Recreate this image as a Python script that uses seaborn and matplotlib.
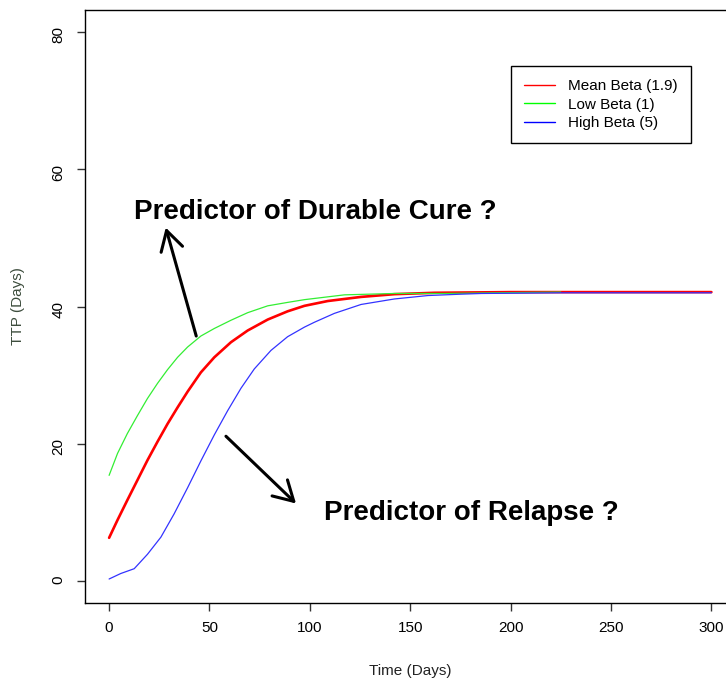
#!/usr/bin/env python3

import matplotlib.pyplot as plt
import pandas as pd
import seaborn as sns
from matplotlib.lines import Line2D

# values (days, TTP in days)
mean_days = [0, 4.2, 9.1, 14.1, 19.1, 24.1, 29.1, 34.1, 39.1, 45.7, 52.4, 60.7,
             69.0, 79.0, 88.9, 97.3, 108.9, 125.5, 142.1, 162.1, 200, 300]
mean_ttp = [6.3, 8.9, 11.8, 14.7, 17.6, 20.3, 22.9, 25.3, 27.6, 30.4, 32.6, 34.8,
            36.5, 38.1, 39.3, 40.1, 40.8, 41.4, 41.8, 42.0, 42.1, 42.1]

low_days = [0, 4.2, 9.1, 14.1, 19.1, 24.1, 29.1, 34.1, 39.1, 45.7, 52.4, 60.7,
            69.0, 79.0, 88.9, 97.3, 117.2, 142.1, 167, 192, 225]
low_ttp = [15.4, 18.6, 21.5, 24.1, 26.6, 28.8, 30.8, 32.6, 34.1, 35.7, 36.8, 38.0,
           39.1, 40.1, 40.6, 41.0, 41.7, 41.9, 41.9, 42.0, 42.1]

high_days = [0, 5.8, 12.5, 19.1, 25.8, 32.4, 39.1, 45.7, 52.4, 59.0, 65.7, 72.3,
             80.6, 88.9, 97.3, 102.2, 112.2, 125.5, 142.1, 158.8, 175.4, 185.4,
             225, 300]
high_ttp = [0.3, 1.1, 1.8, 3.9, 6.4, 9.8, 13.6, 17.5, 21.3, 24.8, 28.1, 30.9,
            33.6, 35.6, 37.0, 37.7, 39.0, 40.3, 41.1, 41.6, 41.8, 41.9,
            42.0, 42.0]

labels = ["Mean Beta (1.9)", "Low Beta (1)", "High Beta (5)"]
colors = ["#ff0000", "#00ff00", "#0000ff"]


def main():
    sns.set_style("white")
    plt.rcParams["font.family"] = ["Liberation Sans", "DejaVu Sans"]
    plt.rcParams.update({
        "font.size": 11,
        "text.color": "black",
        "axes.labelcolor": "black",
        "xtick.color": "black",
        "ytick.color": "black",
    })

    fig = plt.figure(figsize=(7.26, 6.81), dpi=100)
    ax = fig.add_axes([0.1171, 0.1145, 0.896, 0.8708])

    df_mean = pd.DataFrame({"days": mean_days, "ttp": mean_ttp})
    df_low = pd.DataFrame({"days": low_days, "ttp": low_ttp})
    df_high = pd.DataFrame({"days": high_days, "ttp": high_ttp})

    sns.lineplot(data=df_mean, x="days", y="ttp", color=colors[0], lw=1.9, ax=ax)
    sns.lineplot(data=df_low, x="days", y="ttp", color="#33ee33", lw=0.9, ax=ax)
    sns.lineplot(data=df_high, x="days", y="ttp", color="#3333ff", lw=0.9, ax=ax)

    ax.set_xlim(-12, 312)
    ax.set_ylim(-3.2, 83.2)
    ax.set_xticks([0, 50, 100, 150, 200, 250, 300])
    ax.set_yticks([0, 20, 40, 60, 80])

    for s in ax.spines.values():
        s.set_color("black")
        s.set_linewidth(1)

    ax.tick_params(bottom=True, left=True, direction="out", length=6,
                   width=1, color="#333333", labelsize=11, pad=7)
    ax.tick_params(axis="y", labelrotation=90, pad=8)

    ax.set_xlabel("Time (Days)", fontsize=11, color="#222222")
    ax.set_ylabel("TTP (Days)", fontsize=11, color="#3d4d3d")
    ax.xaxis.set_label_coords(0.5, -0.103)
    ax.yaxis.set_label_coords(-0.092, 0.5)

    ax.text(12.5, 52.7, "Predictor of Durable Cure ?", fontsize=20,
            fontweight="bold", ha="left", va="baseline")
    ax.text(107.2, 8.9, "Predictor of Relapse ?", fontsize=20,
            fontweight="bold", ha="left", va="baseline")

    arrow = dict(arrowstyle="->,head_length=0.7,head_width=0.4", lw=2.2,
                 color="black", shrinkA=0, shrinkB=0, mutation_scale=20)
    ax.annotate("", xy=(28.2, 51.5), xytext=(43.4, 35.7), arrowprops=arrow)
    ax.annotate("", xy=(93.1, 11.3), xytext=(58.2, 21.1), arrowprops=arrow)

    handles = [Line2D([0], [0], color=c, lw=1) for c in colors]
    leg = ax.legend(handles, labels, loc="upper left",
                    bbox_to_anchor=(0.655, 0.9056), borderaxespad=0,
                    frameon=True, fancybox=False, shadow=False,
                    edgecolor="black", framealpha=1, fontsize=11,
                    handlelength=2, handletextpad=0.9, borderpad=0.85,
                    labelspacing=0.3)
    leg.get_frame().set_linewidth(1)

    fig.savefig("out.png", dpi=100)


if __name__ == "__main__":
    main()
